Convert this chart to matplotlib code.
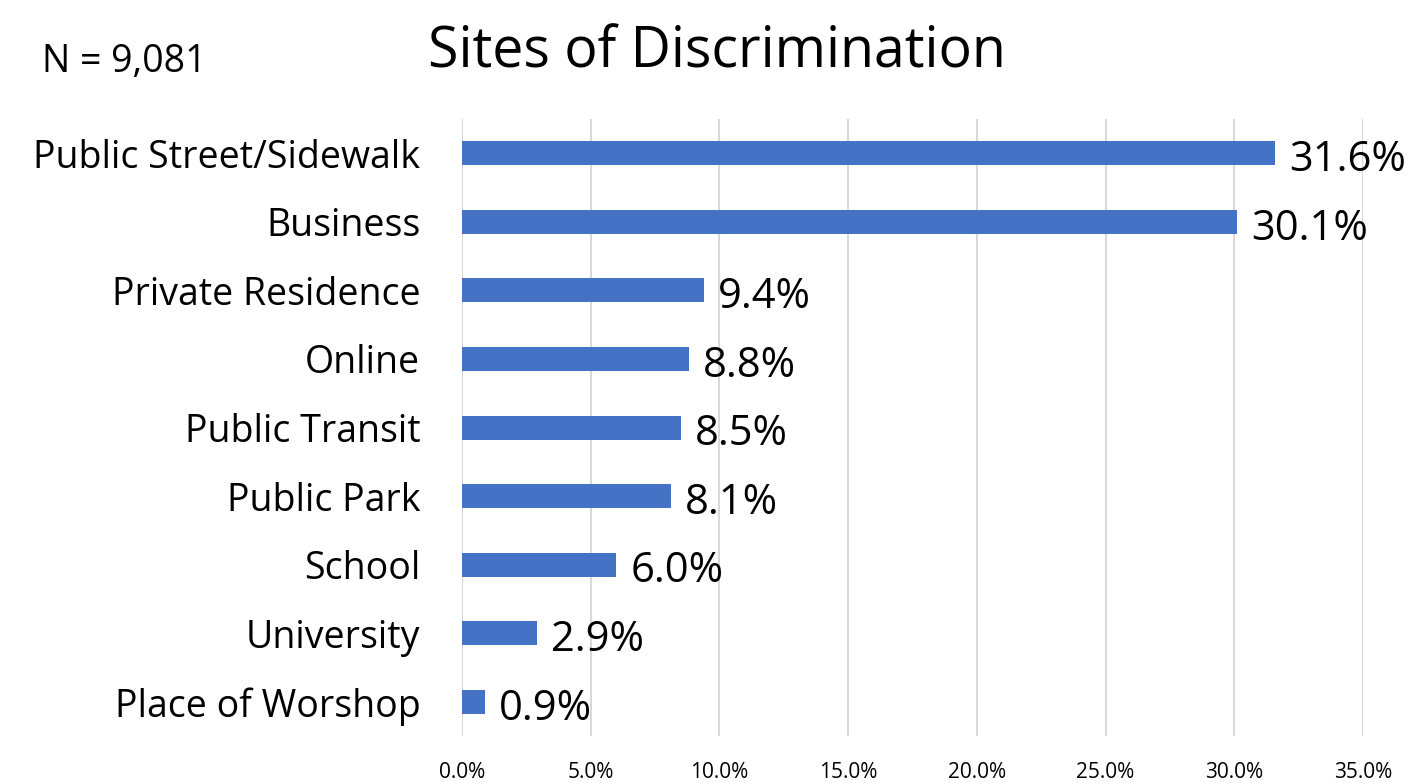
import matplotlib.pyplot as plt

sites = ['Public Street/Sidewalk', 'Business', 'Private Residence', 'Online',
         'Public Transit', 'Public Park', 'School', 'University', 'Place of Worshop']
pct = [31.6, 30.1, 9.4, 8.8, 8.5, 8.1, 6.0, 2.9, 0.9]
xticks = [0, 5, 10, 15, 20, 25, 30, 35]

plt.rcParams['font.family'] = ['Open Sans', 'DejaVu Sans']

fig = plt.figure(figsize=(14.12, 7.83), dpi=100)
ax = fig.add_axes([0.3272, 0.06, 0.6381, 0.788])

ypos = list(range(len(sites)))
ax.barh(ypos, pct, height=0.35, color='#4472C4', zorder=3)
ax.set_ylim(len(sites) - 0.5, -0.5)
ax.set_xlim(0, 35)

# value labels at the end of each bar
for y, v in zip(ypos, pct):
    ax.text(v + 0.55, y + 0.1, f'{v:.1f}%', va='center', ha='left', fontsize=30, color='black')

ax.set_yticks(ypos)
ax.set_yticklabels(sites, fontsize=27)
ax.set_xticks(xticks)
ax.set_xticklabels([f'{t:.1f}%' for t in xticks], fontsize=15)
ax.tick_params(axis='both', length=0)
ax.tick_params(axis='y', pad=30)
ax.tick_params(axis='x', pad=19)
ax.grid(axis='x', color='#D9D9D9', linewidth=1.5, zorder=0)
for s in ax.spines.values():
    s.set_visible(False)

fig.text(0.508, 0.932, 'Sites of Discrimination', ha='center', va='center', fontsize=40)
fig.text(0.03, 0.921, 'N = 9,081', ha='left', va='center', fontsize=27)

fig.savefig('out.png', dpi=100)
